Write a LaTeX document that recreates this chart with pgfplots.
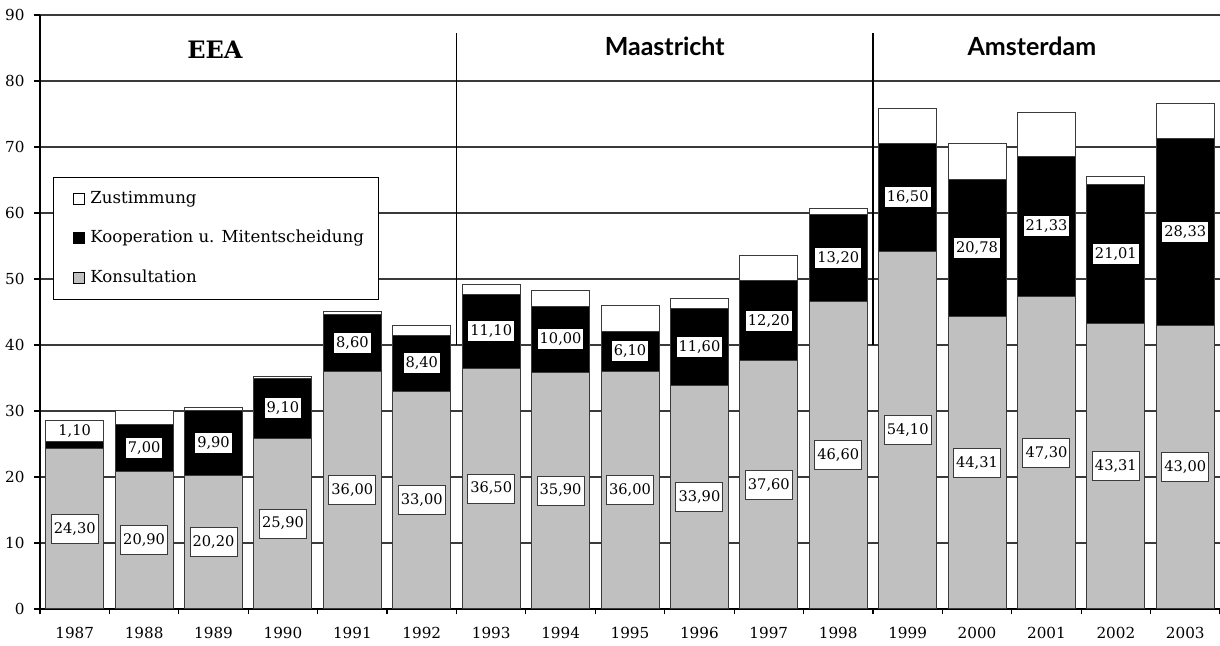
\documentclass[border=0pt]{standalone}
\usepackage{pgfplots}
\usepackage{pgfplotstable}
\pgfplotsset{compat=1.18}
\usepackage{fontspec}
\setmainfont{DejaVu Serif}
\newfontfamily\sansf{Lato}
\definecolor{kgray}{HTML}{C0C0C0}
\definecolor{gridc}{HTML}{3A3A3A}

\pgfplotstableread{
x  K      C      Z     Kpos    Cpos
0  24.30  1.10   3.20  12.15   26.90
1  20.90  7.00   2.25  10.45   24.40
2  20.20  9.90   0.50  10.10   25.15
3  25.90  9.10   0.30  12.95   30.45
4  36.00  8.60   0.55  18.00   40.30
5  33.00  8.40   1.60  16.50   37.20
6  36.50  11.10  1.50  18.25   42.05
7  35.90  10.00  2.30  17.95   40.90
8  36.00  6.10   3.85  18.00   39.05
9  33.90  11.60  1.60  16.95   39.70
10 37.60  12.20  3.70  18.80   43.70
11 46.60  13.20  0.90  23.30   53.20
12 54.10  16.50  5.20  27.05   62.35
13 44.31  20.78  5.46  22.155  54.70
14 47.30  21.33  6.67  23.65   57.965
15 43.31  21.01  1.18  21.655  53.815
16 43.00  28.33  5.27  21.50   57.165
}\datatab

\begin{document}
\begin{tikzpicture}
\useasboundingbox (-20pt,-18.5pt) rectangle (590pt,304.5pt);
\begin{axis}[
  at={(0,0)}, anchor=south west,
  scale only axis, width=590pt, height=297pt,
  ybar stacked, bar width=29pt,
  xmin=-0.5, xmax=16.5, ymin=0, ymax=90,
  axis x line*=bottom, axis y line*=left,
  axis line style={-, black, line width=0.8pt},
  ytick={0,10,...,90},
  ymajorgrids, grid style={gridc, line width=0.65pt},
  xtick={-0.5,0.5,...,16.5},
  x tick label as interval,
  xticklabels={1987,1988,1989,1990,1991,1992,1993,1994,1995,1996,1997,1998,1999,2000,2001,2002,2003},
  tick align=outside, major tick length=2.75pt,
  tick style={black, line width=0.6pt},
  ticklabel style={font=\fontsize{7.6}{9}\selectfont},
  xticklabel style={yshift=-3pt},
  yticklabel style={xshift=-1.5pt},
  /pgf/number format/assume math mode=true,
  reverse legend,
  legend cell align=left,
  legend image code/.code={\path (0pt,0pt); \draw[#1, draw=black, line width=0.4pt] (4pt,-2.75pt) rectangle (9.5pt,2.75pt);},
  legend style={at={(0.011,0.727)}, anchor=north west, draw=black, line width=0.5pt, fill=white,
    font=\fontsize{8.3}{10}\selectfont, row sep=8pt, inner xsep=5.5pt, inner ysep=4.75pt,
    /tikz/every odd column/.append style={column sep=1pt}},
]
\addplot[fill=kgray, draw=gridc, line width=0.5pt] table[x=x, y=K] {\datatab};
\addlegendentry{Konsultation}
\addplot[fill=black, draw=gridc, line width=0.5pt] table[x=x, y=C] {\datatab};
\addlegendentry{Kooperation u. Mitentscheidung}
\addplot[fill=white, draw=gridc, line width=0.5pt] table[x=x, y=Z] {\datatab};
\addlegendentry{Zustimmung}
\end{axis}
\begin{axis}[
  at={(0,0)}, anchor=south west,
  scale only axis, width=590pt, height=297pt,
  xmin=-0.5, xmax=16.5, ymin=0, ymax=90,
  hide axis, clip=false,
]
\addplot[only marks, mark=none, point meta=explicit,
  nodes near coords={\pgfmathprintnumber[fixed,fixed zerofill,precision=2,use comma,assume math mode=true]{\pgfplotspointmeta}},
  every node near coord/.append style={anchor=center, fill=white, draw=gridc, line width=0.5pt,
    font=\fontsize{7.3}{8}\selectfont, inner xsep=1.3pt, inner ysep=0pt, minimum height=14.5pt}]
  table[x=x, y=Kpos, meta=K] {\datatab};
\addplot[only marks, mark=none, point meta=explicit,
  nodes near coords={\pgfmathprintnumber[fixed,fixed zerofill,precision=2,use comma,assume math mode=true]{\pgfplotspointmeta}},
  every node near coord/.append style={anchor=center, fill=white, draw=none,
    font=\fontsize{7.3}{8}\selectfont, inner xsep=1pt, inner ysep=0pt, minimum height=10pt}]
  table[x=x, y=Cpos, meta=C] {\datatab};
\draw[black, line width=0.9pt] (axis cs:5.5,40) -- (axis cs:5.5,87.3);
\draw[black, line width=0.9pt] (axis cs:11.5,40) -- (axis cs:11.5,87.3);
\node[font=\bfseries\fontsize{12}{14}\selectfont] at (axis cs:2.02,84.7) {EEA};
\node[font=\sansf\bfseries\fontsize{12.5}{14}\selectfont] at (axis cs:8.5,85.2) {Maastricht};
\node[font=\sansf\bfseries\fontsize{12.5}{14}\selectfont] at (axis cs:13.79,85.2) {Amsterdam};
\end{axis}
\end{tikzpicture}
\end{document}
